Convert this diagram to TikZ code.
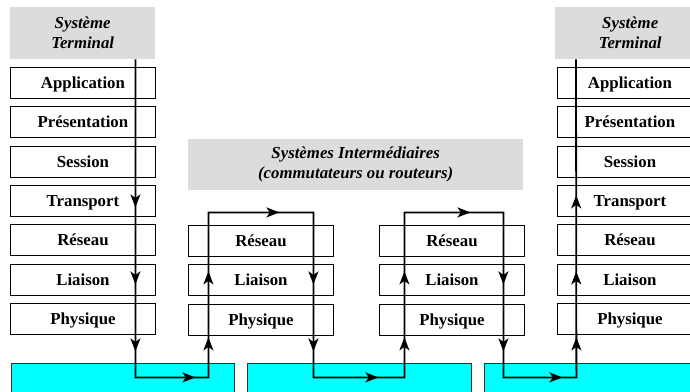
\documentclass[tikz,border=0pt]{standalone}
\usepackage{fontspec}
\setmainfont{Liberation Serif}
\usetikzlibrary{matrix, arrows.meta, positioning}
\usetikzlibrary{decorations.markings}
\definecolor{netcyan}{RGB}{0,255,255}
\definecolor{titlegrey}{RGB}{220,220,220}

\begin{document}
\begin{tikzpicture}[x=1pt,y=-1pt,
	layer/.style={draw, line width=0.9pt, minimum width=145pt, minimum height=31pt,
		inner sep=0pt, anchor=center, text height=11.3pt, text depth=0pt,
		font=\fontsize{16.8}{19}\selectfont\bfseries},
	stack/.style={matrix of nodes, row sep=7.4pt, inner sep=0pt, outer sep=0pt,
		anchor=north west, nodes={layer}},
	title/.style={fill=titlegrey, align=center, inner sep=0pt, anchor=north west,
		font=\fontsize{16.8}{20}\selectfont\bfseries\itshape},
	medium/.style={draw=black!80, line width=0.8pt, fill=netcyan, anchor=north west,
		minimum height=40pt, inner sep=0pt},
	flow/.style={line width=1.8pt, postaction={decorate}},
]
	\useasboundingbox (0,0) rectangle (690,391);
	\clip (0,0) rectangle (690,391);

	% end systems
	\node[title, minimum width=145pt, minimum height=52pt] (ts-l) at (10,7) {Système\\Terminal};
	\node[title, minimum width=150pt, minimum height=52pt] (ts-r) at (555,7) {Système\\Terminal};
	\matrix (sl) [stack] at (10,67) {
		Application \\ Présentation \\ Session \\ Transport \\ Réseau \\ Liaison \\ Physique \\
	};
	\matrix (sr) [stack] at (557,67) {
		Application \\ Présentation \\ Session \\ Transport \\ Réseau \\ Liaison \\ Physique \\
	};

	% intermediate systems
	\node[title, minimum width=335pt, minimum height=51pt] (si) at (188,139)
		{Systèmes Intermédiaires\\(commutateurs ou routeurs)};
	\matrix (ma) [stack] at (188,225) {
		Réseau \\ Liaison \\ Physique \\
	};
	\matrix (mb) [stack] at (379,225) {
		Réseau \\ Liaison \\ Physique \\
	};

	% physical media
	\node[medium, minimum width=223pt] (net-a) at (11,363) {};
	\node[medium, minimum width=224pt] (net-b) at (247,363) {};
	\node[medium, minimum width=230pt] (net-c) at (484,363) {};

	% data path
	\draw[flow, decoration={markings,
		mark=at position 148pt with {\arrow{Stealth[length=13pt,width=10pt,inset=3.5pt]}},
		mark=at position 225pt with {\arrow{Stealth[length=13pt,width=10pt,inset=3.5pt]}},
		mark=at position 292pt with {\arrow{Stealth[length=13pt,width=10pt,inset=3.5pt]}},
		mark=at position 378pt with {\arrow{Stealth[length=13pt,width=10pt,inset=3.5pt]}},
		mark=at position 431pt with {\arrow{Stealth[length=13pt,width=10pt,inset=3.5pt]}},
		mark=at position 497pt with {\arrow{Stealth[length=13pt,width=10pt,inset=3.5pt]}},
		mark=at position 627pt with {\arrow{Stealth[length=13pt,width=10pt,inset=3.5pt]}},
		mark=at position 733pt with {\arrow{Stealth[length=13pt,width=10pt,inset=3.5pt]}},
		mark=at position 800pt with {\arrow{Stealth[length=13pt,width=10pt,inset=3.5pt]}},
		mark=at position 891pt with {\arrow{Stealth[length=13pt,width=10pt,inset=3.5pt]}},
		mark=at position 957pt with {\arrow{Stealth[length=13pt,width=10pt,inset=3.5pt]}},
		mark=at position 1023pt with {\arrow{Stealth[length=13pt,width=10pt,inset=3.5pt]}},
		mark=at position 1148pt with {\arrow{Stealth[length=13pt,width=10pt,inset=3.5pt]}},
		mark=at position 1253pt with {\arrow{Stealth[length=13pt,width=10pt,inset=3.5pt]}},
		mark=at position 1320pt with {\arrow{Stealth[length=13pt,width=10pt,inset=3.5pt]}},
		mark=at position 1405pt with {\arrow{Stealth[length=13pt,width=10pt,inset=3.5pt]}},
		mark=at position 1459pt with {\arrow{Stealth[length=13pt,width=10pt,inset=3.5pt]}},
		mark=at position 1525pt with {\arrow{Stealth[length=13pt,width=10pt,inset=3.5pt]}},
		mark=at position 1601pt with {\arrow{Stealth[length=13pt,width=10pt,inset=3.5pt]}}}]
		([xshift=-20pt]ts-l.south east) -- ++(0,318) -- ++(73,0) -- ++(0,-165)
		-- ++(105,0) -- ++(0,165) -- ++(91,0) -- ++(0,-165) -- ++(99,0)
		-- ++(0,165) -- ++(73,0) -- ([xshift=21pt]ts-r.south west);
\end{tikzpicture}
\end{document}
